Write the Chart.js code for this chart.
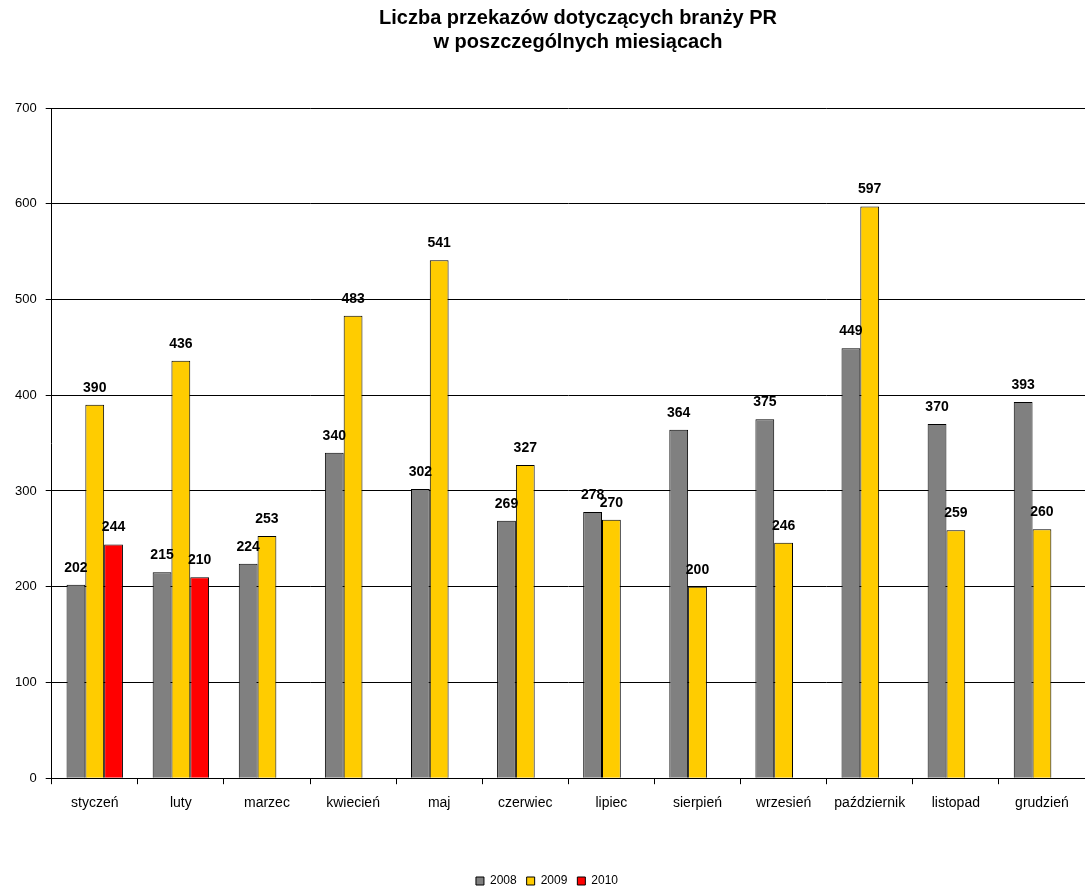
<!DOCTYPE html>
<html>
<head>
<meta charset="utf-8">
<script src="https://cdn.jsdelivr.net/npm/chart.js@4"></script>
<style>
  html, body { margin: 0; padding: 0; background: #fff; }
  #wrap { width: 1085px; height: 891px; position: relative; }
</style>
</head>
<body>
<div id="wrap"><canvas id="chart"></canvas></div>
<script>
// months and yearly counts
const months = ['styczeń', 'luty', 'marzec', 'kwiecień', 'maj', 'czerwiec', 'lipiec', 'sierpień', 'wrzesień', 'październik', 'listopad', 'grudzień'];
const y2008 = [202, 215, 224, 340, 302, 269, 278, 364, 375, 449, 370, 393];
const y2009 = [390, 436, 253, 483, 541, 327, 270, 200, 246, 597, 259, 260];
const y2010 = [244, 210, null, null, null, null, null, null, null, null, null, null];
const yTicks = [0, 100, 200, 300, 400, 500, 600, 700];
const titleLines = ['Liczba przekazów dotyczących branży PR', 'w poszczególnych miesiącach'];

const font = 'Arial, "Liberation Sans", sans-serif';

// title sits a bit right of the canvas centre, as in the original
const titleDraw = {
    id: 'titleDraw',
    afterDraw(chart) {
        const ctx = chart.ctx;
        ctx.save();
        ctx.font = 'bold 20px ' + font;
        ctx.fillStyle = '#000';
        ctx.textAlign = 'center';
        ctx.textBaseline = 'middle';
        titleLines.forEach((t, i) => ctx.fillText(t, 578, 18 + i * 24));
        ctx.restore();
    }
};

// values above bars
const barLabels = {
    id: 'barLabels',
    afterDatasetsDraw(chart) {
        const ctx = chart.ctx;
        ctx.save();
        ctx.font = 'bold 14px ' + font;
        ctx.fillStyle = '#000';
        ctx.textAlign = 'center';
        ctx.textBaseline = 'bottom';
        chart.data.datasets.forEach((ds, i) => {
            const meta = chart.getDatasetMeta(i);
            meta.data.forEach((bar, j) => {
                const v = ds.data[j];
                if (v == null) return;
                ctx.fillText(v, bar.x, bar.y - 10);
            });
        });
        ctx.restore();
    }
};

const mkSet = (label, data, color) => ({
    label, data,
    backgroundColor: color,
    borderColor: '#000',
    borderWidth: 1,
    barPercentage: 1,
    categoryPercentage: 0.655
});

new Chart(document.getElementById('chart'), {
    type: 'bar',
    data: {
        labels: months,
        datasets: [
            mkSet('2008', y2008, '#808080'),
            mkSet('2009', y2009, '#FFCC00'),
            mkSet('2010', y2010, '#FF0000')
        ]
    },
    options: {
        responsive: true,
        maintainAspectRatio: false,
        animation: false,
        layout: { padding: { left: 6, right: -3, top: 108, bottom: -6 } },
        plugins: {
            title: { display: false },
            legend: {
                position: 'bottom',
                labels: {
                    color: '#000',
                    font: { family: font, size: 12 },
                    boxWidth: 8,
                    boxHeight: 8,
                    padding: 10
                }
            },
            tooltip: { enabled: false }
        },
        scales: {
            x: {
                offset: true,
                grid: { display: true, drawOnChartArea: false, offset: true, color: '#000', tickLength: 6 },
                border: { display: true, color: '#000' },
                ticks: { color: '#000', font: { family: font, size: 14 }, padding: 11, maxRotation: 0 },
                afterFit: axis => { axis.height += 42; }
            },
            y: {
                min: 0,
                max: 700,
                afterBuildTicks: axis => { axis.ticks = yTicks.map(v => ({ value: v })); },
                grid: { color: '#000', tickLength: 6 },
                border: { display: true, color: '#000' },
                ticks: { color: '#000', font: { family: font, size: 13 }, padding: 9 }
            }
        }
    },
    plugins: [barLabels, titleDraw]
});
</script>
</body>
</html>
